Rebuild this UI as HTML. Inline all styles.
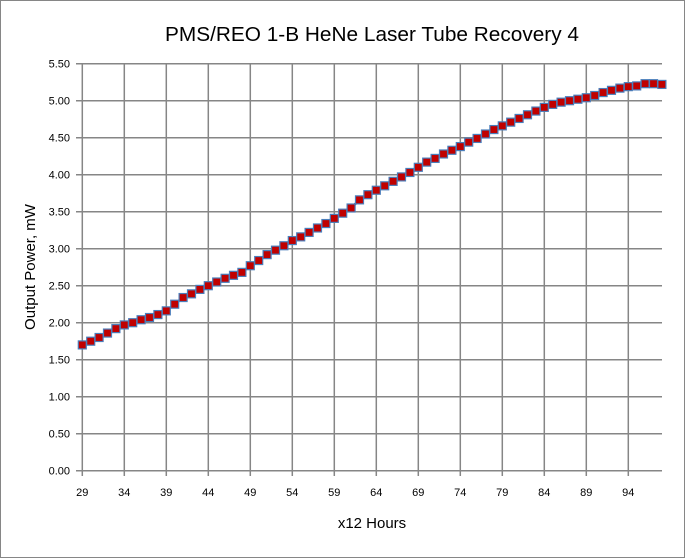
<!DOCTYPE html>
<html><head><meta charset="utf-8"><style>
html,body{margin:0;padding:0;background:#fff}
svg{display:block}
text{font-family:"Liberation Sans",sans-serif}
</style></head><body>
<svg id="s" width="685" height="558" xmlns="http://www.w3.org/2000/svg">
<rect x="0.5" y="0.5" width="684" height="557" fill="#fff" stroke="#868686"/>
<text x="372" y="41" font-size="20" text-anchor="middle" textLength="414" lengthAdjust="spacingAndGlyphs">PMS/REO  1-B HeNe Laser Tube Recovery 4</text>
<text transform="translate(35,267) rotate(-90)" font-size="15" text-anchor="middle">Output Power, mW</text>
<text x="372" y="528" font-size="15" text-anchor="middle">x12 Hours</text>
<g id="g"></g>
</svg>
<script>
var g=document.getElementById('g'),h='';
var x0=82.3,dx=8.4,y0=470.7,k=74;
for(var i=0;i<=11;i++){var y=y0-i*37;h+='<line x1="76" x2="662" y1="'+y+'" y2="'+y+'" stroke="#868686" stroke-width="1.5"/>';
h+='<text x="70" y="'+(y+4)+'" font-size="11" text-anchor="end">'+(i*0.5).toFixed(2)+'</text>';}
for(var j=0;j<14;j++){var x=x0+j*42;h+='<line x1="'+x+'" x2="'+x+'" y1="63.3" y2="476" stroke="#868686" stroke-width="1.5"/>';
h+='<text x="'+x+'" y="496" font-size="11" text-anchor="middle">'+(29+j*5)+'</text>';}
var v=[1.70,1.75,1.80,1.86,1.92,1.97,2.00,2.04,2.07,2.11,2.16,2.25,2.34,2.39,2.45,2.50,2.55,2.60,2.64,2.68,2.77,2.84,2.92,2.98,3.04,3.11,3.16,3.22,3.28,3.34,3.41,3.48,3.55,3.66,3.73,3.79,3.85,3.91,3.97,4.03,4.10,4.17,4.22,4.28,4.33,4.38,4.44,4.49,4.55,4.61,4.66,4.71,4.76,4.81,4.86,4.91,4.95,4.98,5.00,5.02,5.04,5.07,5.11,5.14,5.17,5.19,5.20,5.23,5.23,5.22];
var p=v.map(function(a,i){return (x0+i*dx).toFixed(1)+','+(y0-a*k).toFixed(1)}).join(' ');
h+='<polyline points="'+p+'" fill="none" stroke="#2f4f8f" stroke-width="2.5"/>';
v.forEach(function(a,i){h+='<rect x="'+(x0+i*dx-4)+'" y="'+(y0-a*k-4)+'" width="8" height="8" fill="#c00000" stroke="#4a7ebb" stroke-width="1.2"/>';});
g.innerHTML=h;
</script>
</body></html>
